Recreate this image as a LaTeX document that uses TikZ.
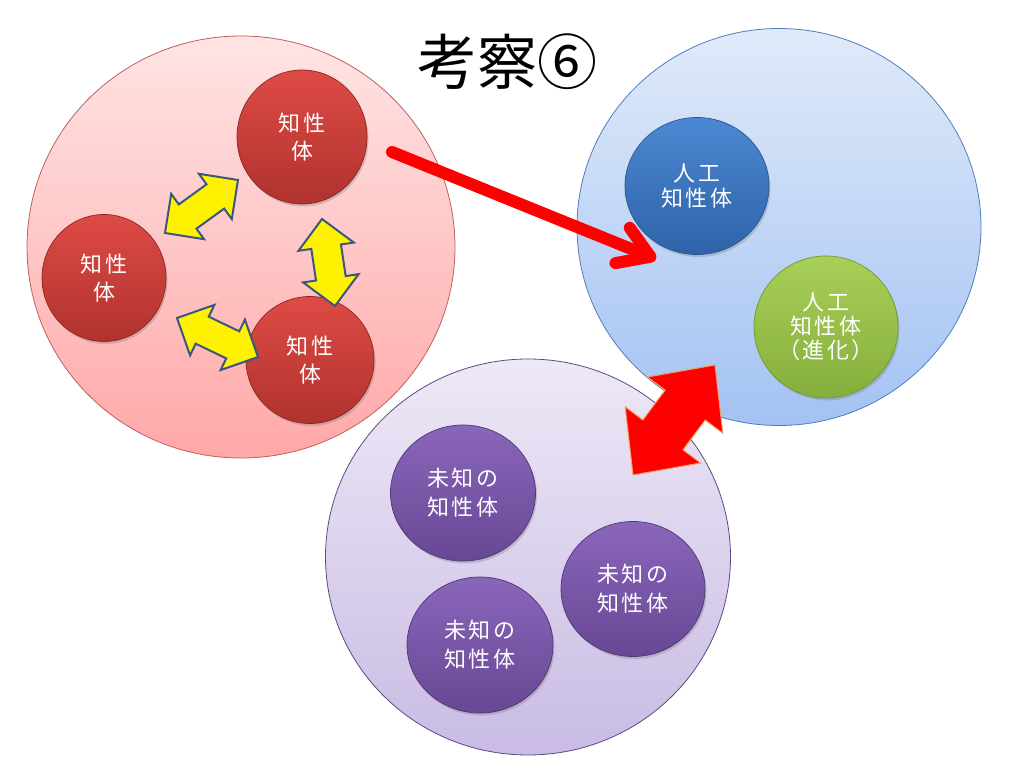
\documentclass[tikz,border=0pt]{standalone}
\usepackage{fontspec}
\setmainfont{Noto Sans CJK JP}
\newfontfamily\lblfont[LetterSpace=10]{Noto Sans CJK JP}
\usetikzlibrary{shapes.geometric,shadows,arrows.meta,calc}
\definecolor{pinkT}{HTML}{FFE4E4}
\definecolor{pinkB}{HTML}{FFA8A8}
\definecolor{pinkL}{HTML}{C0605E}
\definecolor{bluT}{HTML}{E0EAF9}
\definecolor{bluB}{HTML}{A3C2F3}
\definecolor{bluL}{HTML}{4F7FBA}
\definecolor{purT}{HTML}{EEE8F6}
\definecolor{purB}{HTML}{C9BBE4}
\definecolor{purL}{HTML}{5A4A88}
\definecolor{redT}{HTML}{DE4B45}
\definecolor{redB}{HTML}{B0322E}
\definecolor{redL}{HTML}{8C2622}
\definecolor{sbT}{HTML}{4C88D2}
\definecolor{sbB}{HTML}{2E63A8}
\definecolor{sbL}{HTML}{285790}
\definecolor{grT}{HTML}{A8CF58}
\definecolor{grB}{HTML}{86AE3C}
\definecolor{grL}{HTML}{6E9A2C}
\definecolor{spT}{HTML}{8A66BB}
\definecolor{spB}{HTML}{674894}
\definecolor{spL}{HTML}{4E3775}
\definecolor{yarL}{HTML}{3A587C}
\definecolor{rarL}{HTML}{F0A060}
% #1 style, #2 tip A, #3 tip B, #4 head length, #5 head half width, #6 shaft half width
\newcommand\blockdbl[6]{%
  \path ($(#2)!#4!(#3)$) coordinate (bdP) ($(#3)!#4!(#2)$) coordinate (bdQ);
  \draw[#1] (#2) -- ($(bdP)!#5!90:(#3)$) -- ($(bdP)!#6!90:(#3)$)
    -- ($(bdQ)!#6!-90:(#2)$) -- ($(bdQ)!#5!-90:(#2)$) -- (#3)
    -- ($(bdQ)!#5!90:(#2)$) -- ($(bdQ)!#6!90:(#2)$)
    -- ($(bdP)!#6!-90:(#3)$) -- ($(bdP)!#5!-90:(#3)$) -- cycle;}
\begin{document}
\begin{tikzpicture}[x=1pt,y=-1pt,
  bigc/.style={ellipse, inner sep=0pt, line width=0.8pt},
  smallc/.style={ellipse, inner sep=0pt, line width=0.7pt, text=white, align=center,
    drop shadow={opacity=0.35, shadow xshift=1.5pt, shadow yshift=-2.5pt}},
  redc/.style={smallc, top color=redT, bottom color=redB, draw=redL,
    font=\lblfont\fontsize{22}{28}\selectfont},
  bluec/.style={smallc, top color=sbT, bottom color=sbB, draw=sbL,
    font=\lblfont\fontsize{22}{25}\selectfont},
  greenc/.style={smallc, top color=grT, bottom color=grB, draw=grL,
    font=\lblfont\fontsize{22}{24}\selectfont},
  purc/.style={smallc, top color=spT, bottom color=spB, draw=spL,
    font=\lblfont\fontsize{22}{29}\selectfont},
  yarrow/.style={fill=yellow, draw=yarL, line width=2pt, line join=miter},
  rarrow/.style={fill=red, draw=rarL, line width=1pt, line join=miter},
  redline/.style={draw=red, line width=12pt, line cap=round, line join=round,
    -{Straight Barb[length=30pt, width=38pt, round]}}
]
\useasboundingbox (0,0) rectangle (1024,768);
\fill[white] (0,0) rectangle (1024,768);

% big circles
\node[bigc, top color=pinkT, bottom color=pinkB, draw=pinkL,
  minimum width=428pt, minimum height=422pt] (pink) at (241,247) {};
\node[bigc, top color=bluT, bottom color=bluB, draw=bluL,
  minimum width=404pt, minimum height=397pt] (blue) at (779,227) {};
\node[bigc, top color=purT, bottom color=purB, draw=purL,
  minimum width=405pt, minimum height=396pt] (purple) at (528,557) {};

% title
\node[font=\fontsize{60}{60}\selectfont] (title) at (507,62) {考察⑥};

% red small circles
\node[redc, minimum width=130pt, minimum height=134pt] (r1) at (302,137) {知性\\体};
\node[redc, minimum width=124pt, minimum height=127pt] (r2) at (104,278) {知性\\体};
\node[redc, minimum width=128pt, minimum height=127pt] (r3) at (310,360) {知性\\体};

% blue / green
\node[bluec, minimum width=144pt, minimum height=137pt] (ai) at (697,186) {人工\\知性体};
\node[greenc, minimum width=144pt, minimum height=142pt] (aie) at (826,327) {人工\\知性体\\（進化）};

% purple small circles
\node[purc, minimum width=145pt, minimum height=136pt] (u1) at (463,493) {未知の\\知性体};
\node[purc, minimum width=144pt, minimum height=135pt] (u2) at (633,589) {未知の\\知性体};
\node[purc, minimum width=146pt, minimum height=136pt] (u3) at (480,645) {未知の\\知性体};

% yellow double arrows
\coordinate (y1a) at (165,233);
\coordinate (y1b) at (238,180);
\coordinate (y2a) at (322,219);
\coordinate (y2b) at (335,306);
\coordinate (y3a) at (177,318);
\coordinate (y3b) at (258,357);
\blockdbl{yarrow}{y1a}{y1b}{28pt}{28pt}{15pt}
\blockdbl{yarrow}{y2a}{y2b}{28pt}{28pt}{15pt}
\blockdbl{yarrow}{y3a}{y3b}{28pt}{28pt}{15pt}

% red double block arrow
\coordinate (ra) at (633,475);
\coordinate (rb) at (715,365);
\blockdbl{rarrow}{ra}{rb}{50pt}{47pt}{25pt}

% red line arrow
\coordinate (ls) at (392,152);
\coordinate (le) at (656,259);
\draw[redline] (ls) -- (le);
\end{tikzpicture}
\end{document}
